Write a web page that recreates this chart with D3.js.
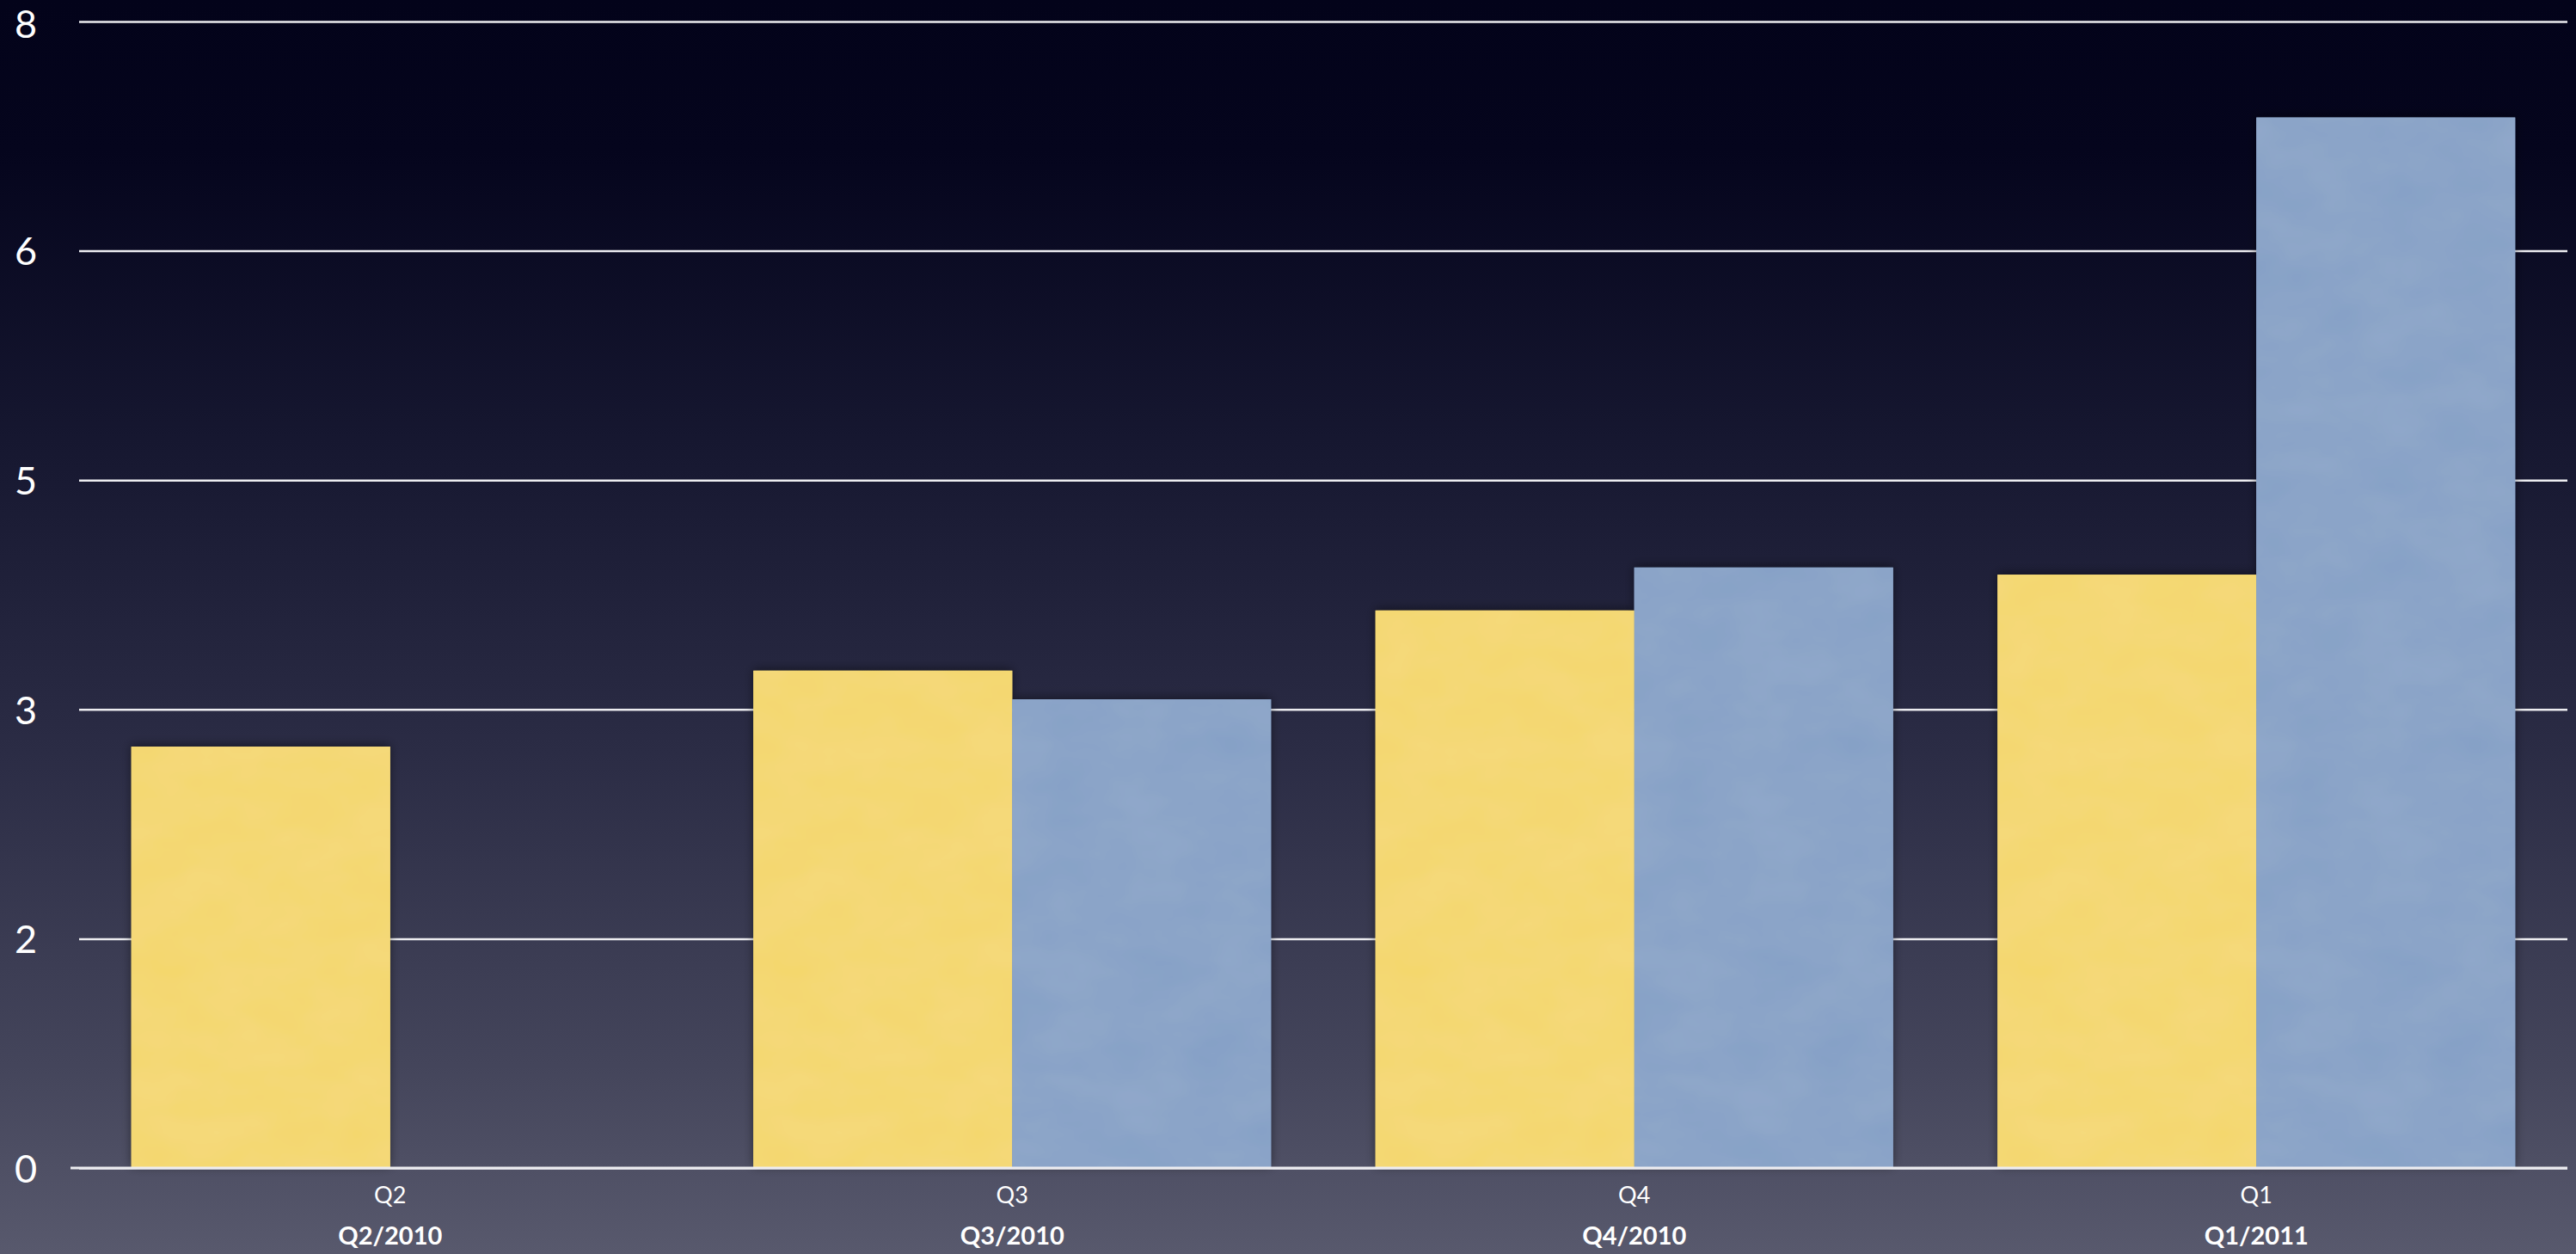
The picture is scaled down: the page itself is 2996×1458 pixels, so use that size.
<!DOCTYPE html>
<html>
<head>
<meta charset="utf-8">
<script src="https://cdn.jsdelivr.net/npm/d3@7/dist/d3.min.js"></script>
<style>
  html, body { margin: 0; padding: 0; background: #0a0a20; }
  svg { display: block; }
</style>
</head>
<body>
<svg id="chart" width="2996" height="1458"></svg>
<script>
// ---- data ----
const categories = ["Q2", "Q3", "Q4", "Q1"];
const periodLabels = ["Q2/2010", "Q3/2010", "Q4/2010", "Q1/2011"];
const seriesYellow = [2.94, 3.47, 3.89, 4.14];
const seriesBlue = [null, 3.27, 4.19, 7.33];
const tickValues = [0, 1.6, 3.2, 4.8, 6.4, 8];
const tickLabels = ["0", "2", "3", "5", "6", "8"];

// ---- layout ----
const W = 2996, H = 1458;
const margin = { left: 92, right: 10, top: 25, bottom: 100 };
const svg = d3.select("#chart");
const defs = svg.append("defs");

const bg = defs.append("linearGradient").attr("id", "bg")
  .attr("x1", 0).attr("y1", 0).attr("x2", 0).attr("y2", 1);
[[0, "#03031a"], [0.12, "#05051d"], [0.35, "#161730"], [0.6, "#2b2c45"], [0.85, "#44455b"], [1, "#58596d"]]
  .forEach(([o, c]) => bg.append("stop").attr("offset", o).attr("stop-color", c));

const shadow = defs.append("filter").attr("id", "shadow")
  .attr("x", "-10%").attr("y", "-10%").attr("width", "120%").attr("height", "120%");
shadow.append("feDropShadow").attr("dx", 0).attr("dy", -2).attr("stdDeviation", 6)
  .attr("flood-color", "#000").attr("flood-opacity", 0.45);

// subtle paper texture
const tex = defs.append("filter").attr("id", "tex").attr("x", 0).attr("y", 0).attr("width", "100%").attr("height", "100%");
tex.append("feTurbulence").attr("type", "fractalNoise").attr("baseFrequency", "0.012 0.02").attr("numOctaves", 3).attr("seed", 4).attr("result", "noise");
tex.append("feColorMatrix").attr("in", "noise").attr("type", "matrix")
  .attr("values", "0 0 0 0 1  0 0 0 0 1  0 0 0 0 1  0 0 0 0.07 0").attr("result", "light");
tex.append("feComposite").attr("in", "light").attr("in2", "SourceGraphic").attr("operator", "in").attr("result", "lt");
tex.append("feMerge").call(m => { m.append("feMergeNode").attr("in", "SourceGraphic"); m.append("feMergeNode").attr("in", "lt"); });

svg.append("rect").attr("width", W).attr("height", H).attr("fill", "url(#bg)");

const x0 = d3.scaleBand().domain(categories)
  .range([margin.left, W - margin.right]).paddingInner(0.168).paddingOuter(0.084);
const x1 = d3.scaleBand().domain(["yellow", "blue"]).range([0, x0.bandwidth()]).padding(0);
const y = d3.scaleLinear().domain([0, 8]).range([H - margin.bottom, margin.top]);

// gridlines
const yAxis = d3.axisLeft(y).tickValues(tickValues)
  .tickFormat((d, i) => tickLabels[i])
  .tickSize(-(W - margin.right - margin.left)).tickPadding(0);
const gy = svg.append("g").attr("transform", `translate(${margin.left},0)`).call(yAxis);
gy.select(".domain").remove();
gy.selectAll(".tick line").attr("stroke", "#ececf0").attr("stroke-width", 2.5);
gy.selectAll(".tick text")
  .attr("x", -62).attr("dy", (d, i) => i === tickValues.length - 1 ? "0.42em" : "0.36em")
  .attr("text-anchor", "middle")
  .attr("fill", "#ffffff")
  .style("font-family", "Lato, 'Open Sans', sans-serif")
  .style("font-size", "45px");

// bars
const colors = { yellow: "#f4d76c", blue: "#85a0c6" };
const data = categories.map((c, i) => ({ c, vals: [
  { k: "yellow", v: seriesYellow[i] }, { k: "blue", v: seriesBlue[i] }] }));

const groups = svg.append("g").selectAll("g").data(data).join("g")
  .attr("transform", d => `translate(${x0(d.c)},0)`);
groups.selectAll("rect").data(d => d.vals.filter(e => e.v != null)).join("rect")
  .attr("x", d => x1(d.k))
  .attr("width", x1.bandwidth())
  .attr("y", d => y(d.v))
  .attr("height", d => y(0) - y(d.v))
  .attr("fill", d => colors[d.k])
  .attr("filter", "url(#shadow)");
groups.selectAll("rect.t").data(d => d.vals.filter(e => e.v != null)).join("rect")
  .attr("class", "t")
  .attr("x", d => x1(d.k))
  .attr("width", x1.bandwidth())
  .attr("y", d => y(d.v))
  .attr("height", d => y(0) - y(d.v))
  .attr("fill", d => colors[d.k])
  .attr("filter", "url(#tex)");

// baseline over bars
svg.append("line")
  .attr("x1", margin.left - 10).attr("x2", W - margin.right)
  .attr("y1", y(0)).attr("y2", y(0))
  .attr("stroke", "#ececf0").attr("stroke-width", 3);

// x labels
const xAxis = d3.axisBottom(x0).tickSize(0).tickPadding(0);
const gx = svg.append("g").attr("transform", `translate(0,${y(0)})`).call(xAxis);
gx.select(".domain").remove();
gx.selectAll(".tick text")
  .attr("y", 31).attr("dy", "0.36em")
  .attr("fill", "#ffffff")
  .style("font-family", "Lato, 'Open Sans', sans-serif")
  .style("font-size", "27px");
gx.selectAll(".tick").append("text")
  .attr("y", 79).attr("dy", "0.36em")
  .attr("text-anchor", "middle")
  .attr("fill", "#ffffff")
  .style("font-family", "Lato, 'Open Sans', sans-serif")
  .style("font-weight", "bold")
  .style("font-size", "29px")
  .text((d, i) => periodLabels[i]);
</script>
</body>
</html>
